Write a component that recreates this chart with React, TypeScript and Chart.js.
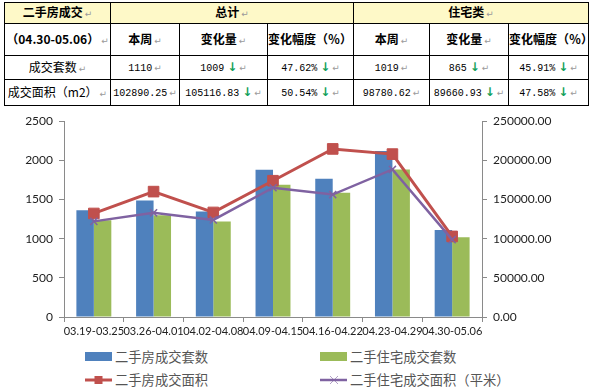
import React, { useEffect, useRef } from 'react';
import { Chart, registerables } from 'chart.js';

Chart.register(...registerables);

// ---------- chart data ----------
const weeks = ['03.19-03.25', '03.26-04.01', '04.02-04.08', '04.09-04.15', '04.16-04.22', '04.23-04.29', '04.30-05.06'];
const totalSets = [1362, 1487, 1348, 1880, 1765, 2119, 1110];
const residentialSets = [1234, 1300, 1218, 1690, 1588, 1884, 1019];
const totalArea = [132200, 160100, 133500, 174000, 214600, 208007.08, 102890.25];
const residentialArea = [122100, 133000, 124000, 165000, 156300, 188441.55, 98780.62];
const seriesNames = ['二手房成交套数', '二手住宅成交套数', '二手房成交面积', '二手住宅成交面积（平米）'];

// ---------- table data ----------
const head1 = ['二手房成交', '总计', '住宅类'];
const head2 = ['（04.30-05.06）', '本周', '变化量', '变化幅度（％）', '本周', '变化量', '变化幅度（％）'];
const rowLabels = ['成交套数', '成交面积（m2）'];
const weekTotal = ['1110', '102890.25'];
const changeTotal = ['1009', '105116.83'];
const pctTotal = ['47.62%', '50.54%'];
const weekRes = ['1019', '98780.62'];
const changeRes = ['865', '89660.93'];
const pctRes = ['45.91%', '47.58%'];

const BLUE = '#4F81BD';
const GREEN = '#9BBB59';
const RED = '#C0504D';
const PURPLE = '#7F62A1';
const AXIS = '#8A8A8A';

const CJK = '"Noto Sans CJK SC", sans-serif';
const MONO = '"Liberation Mono", "DejaVu Sans Mono", monospace';

const Ret = () => (
  <span style={{ color: '#9a9a9a', fontSize: 9, fontFamily: '"DejaVu Sans", sans-serif', fontWeight: 400, marginLeft: 2 }}>↵</span>
);
const Down = () => (
  <span style={{ color: '#13A05A', fontSize: 12, fontFamily: '"DejaVu Sans", sans-serif', fontWeight: 700, marginLeft: 3 }}>↓</span>
);

const border = '1px solid #000';
const cell: React.CSSProperties = {
  border,
  padding: 0,
  textAlign: 'center',
  verticalAlign: 'middle',
  fontFamily: CJK,
  fontSize: 12,
  color: '#000',
  whiteSpace: 'nowrap',
  overflow: 'hidden',
  lineHeight: '14px',
};
const headCell: React.CSSProperties = { ...cell, fontWeight: 700 };
const yellow: React.CSSProperties = { ...headCell, background: '#FEF9C8' };

const Num = ({ v, down }: { v: string; down?: boolean }) => (
  <td style={cell}>
    <span style={{ fontFamily: MONO, fontSize: 10 }}>{v}</span>
    {down ? <Down /> : null}
    <Ret />
  </td>
);

const legendItems = [
  { name: seriesNames[0], color: BLUE, kind: 'bar', col: 0, row: 0 },
  { name: seriesNames[1], color: GREEN, kind: 'bar', col: 1, row: 0 },
  { name: seriesNames[2], color: RED, kind: 'rect', col: 0, row: 1 },
  { name: seriesNames[3], color: PURPLE, kind: 'cross', col: 1, row: 1 },
];

function LegendIcon({ kind, color }: { kind: string; color: string }) {
  if (kind === 'bar') {
    return <div style={{ position: 'absolute', left: 0, top: 3, width: 27, height: 9, background: color }} />;
  }
  return (
    <svg width={28} height={14} style={{ position: 'absolute', left: 0, top: 1 }}>
      <line x1={0} y1={7} x2={27} y2={7} stroke={color} strokeWidth={kind === 'rect' ? 3 : 2.5} />
      {kind === 'rect' ? (
        <rect x={9.5} y={3} width={8} height={8} fill={color} />
      ) : (
        <g stroke={color} strokeWidth={1} opacity={0.6}>
          <line x1={10} y1={3} x2={18} y2={11} />
          <line x1={18} y1={3} x2={10} y2={11} />
        </g>
      )}
    </svg>
  );
}

export default function App() {
  const canvasRef = useRef<HTMLCanvasElement | null>(null);

  useEffect(() => {
    if (!canvasRef.current) return;
    const tickFont = { family: 'Lato, "Open Sans", sans-serif', size: 12 };
    const chart = new Chart(canvasRef.current, {
      type: 'bar',
      data: {
        labels: weeks,
        datasets: [
          {
            type: 'bar',
            label: seriesNames[0],
            data: totalSets,
            backgroundColor: BLUE,
            yAxisID: 'y',
            order: 2,
            categoryPercentage: 0.585,
            barPercentage: 1,
          },
          {
            type: 'bar',
            label: seriesNames[1],
            data: residentialSets,
            backgroundColor: GREEN,
            yAxisID: 'y',
            order: 2,
            categoryPercentage: 0.585,
            barPercentage: 1,
          },
          {
            type: 'line',
            label: seriesNames[2],
            data: totalArea,
            borderColor: RED,
            backgroundColor: RED,
            borderWidth: 3,
            pointStyle: 'rect',
            pointRadius: 7.5,
            pointBorderWidth: 1,
            pointBorderColor: RED,
            pointBackgroundColor: RED,
            yAxisID: 'y2',
            order: 1,
            tension: 0,
          },
          {
            type: 'line',
            label: seriesNames[3],
            data: residentialArea,
            borderColor: PURPLE,
            backgroundColor: PURPLE,
            borderWidth: 2.5,
            pointStyle: 'crossRot',
            pointRadius: 5,
            pointBorderWidth: 1.5,
            pointBorderColor: PURPLE,
            yAxisID: 'y2',
            order: 0,
            tension: 0,
          },
        ],
      },
      options: {
        responsive: false,
        animation: false,
        events: [],
        layout: { padding: { top: 12, left: 0, right: 0, bottom: 0 } },
        plugins: { legend: { display: false }, tooltip: { enabled: false } },
        scales: {
          x: {
            grid: { drawOnChartArea: false, tickLength: 5, color: AXIS, offset: true },
            border: { color: AXIS },
            ticks: {
              font: { family: 'Lato, "Open Sans", sans-serif', size: 11 },
              color: '#222',
              padding: 3,
              maxRotation: 0,
              minRotation: 0,
              autoSkip: false,
            },
            afterFit: (s: any) => {
              s.height = 23;
            },
          },
          y: {
            position: 'left',
            min: 0,
            max: 2500,
            ticks: {
              stepSize: 500,
              font: tickFont,
              color: '#222',
              padding: 6,
              callback: (v: any) => String(v),
            },
            grid: { drawOnChartArea: false, tickLength: 5, color: AXIS },
            border: { color: AXIS },
            afterFit: (s: any) => {
              s.width = 64;
            },
          },
          y2: {
            position: 'right',
            min: 0,
            max: 250000,
            ticks: {
              stepSize: 50000,
              font: tickFont,
              color: '#222',
              padding: 6,
              callback: (v: any) => Number(v).toFixed(2),
            },
            grid: { drawOnChartArea: false, tickLength: 5, color: AXIS },
            border: { color: AXIS },
            afterFit: (s: any) => {
              s.width = 108;
            },
          },
        },
      },
    } as any);
    return () => chart.destroy();
  }, []);

  return (
    <div style={{ position: 'fixed', left: 0, top: 0, width: 590, height: 391, background: '#fff', overflow: 'hidden' }}>
      <table
        style={{
          position: 'absolute',
          left: 4,
          top: 2,
          width: 584,
          borderCollapse: 'collapse',
          tableLayout: 'fixed',
          border,
        }}
      >
        <colgroup>
          <col style={{ width: 106 }} />
          <col style={{ width: 69 }} />
          <col style={{ width: 88 }} />
          <col style={{ width: 86 }} />
          <col style={{ width: 76 }} />
          <col style={{ width: 79 }} />
          <col style={{ width: 80 }} />
        </colgroup>
        <tbody>
          <tr style={{ height: 21 }}>
            <td style={yellow}>{head1[0]}<Ret /></td>
            <td style={yellow} colSpan={3}>{head1[1]}<Ret /></td>
            <td style={yellow} colSpan={3}>{head1[2]}<Ret /></td>
          </tr>
          <tr style={{ height: 32 }}>
            {head2.map((h, i) => (
              <td key={i} style={headCell}>{h}<Ret /></td>
            ))}
          </tr>
          {rowLabels.map((lab, r) => (
            <tr key={r} style={{ height: r === 0 ? 24 : 26 }}>
              <td style={cell}>{lab}<Ret /></td>
              <Num v={weekTotal[r]} />
              <Num v={changeTotal[r]} down />
              <Num v={pctTotal[r]} down />
              <Num v={weekRes[r]} />
              <Num v={changeRes[r]} down />
              <Num v={pctRes[r]} down />
            </tr>
          ))}
        </tbody>
      </table>

      <canvas
        ref={canvasRef}
        width={590}
        height={232}
        style={{ position: 'absolute', left: 0, top: 108, width: 590, height: 232 }}
      />

      {legendItems.map((it, i) => (
        <div
          key={i}
          style={{
            position: 'absolute',
            left: it.col === 0 ? 85 : 320,
            top: it.row === 0 ? 349 : 372,
            height: 16,
            whiteSpace: 'nowrap',
          }}
        >
          <LegendIcon kind={it.kind} color={it.color} />
          <span
            style={{
              position: 'absolute',
              left: 30,
              top: 0,
              fontFamily: CJK,
              fontSize: 13.3,
              lineHeight: '16px',
              color: '#555',
            }}
          >
            {it.name}
          </span>
        </div>
      ))}
    </div>
  );
}
